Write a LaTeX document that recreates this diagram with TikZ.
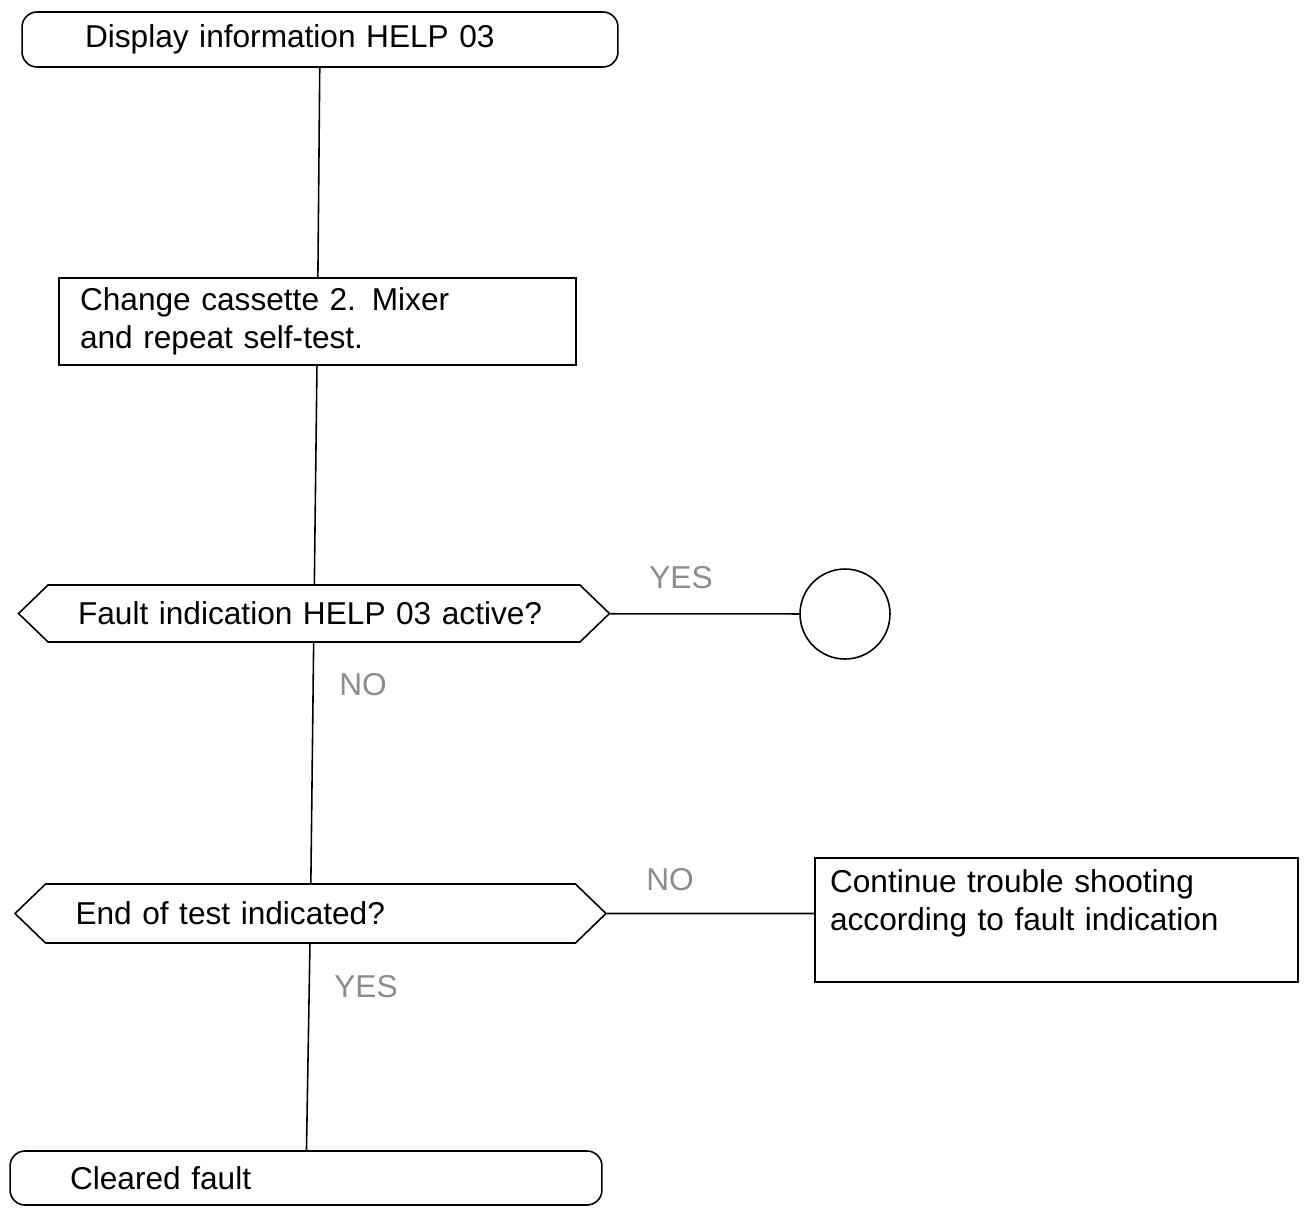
\documentclass[tikz,border=0pt]{standalone}
\usepackage{fontspec}
\setmainfont{Liberation Sans}
\usetikzlibrary{shapes.symbols}

\tikzset{
  term/.style={rectangle,rounded corners=0.3cm,draw,line width=0.9pt,align=left,inner ysep=0pt},
  act/.style={rectangle,draw,line width=0.9pt,align=left},
  ask/.style={signal,signal to=west and east,signal pointer angle=88,draw,line width=0.9pt,align=left,inner ysep=0pt},
  ans/.style={text=black!45,inner sep=0pt}
}

\begin{document}
\begin{tikzpicture}[x=0.02cm,y=-0.02cm,line width=0.9pt,font=\fontsize{18}{21.6}\selectfont]
\useasboundingbox (0,0) rectangle (1308,1207);
\node (start) at (320,39.5) [term,text width=9.4cm,inner xsep=1.26cm,minimum height=1.1cm] {Display information HELP 03};
\node (chg) at (317.5,321.5) [act,text width=9.5cm,inner xsep=0.42cm,minimum height=1.74cm] {Change cassette 2. Mixer\\and repeat self-test.};
\node (q1) at (314,613.5) [ask,text width=9.44cm,inner xsep=0.6cm,minimum height=1.14cm] {Fault indication HELP 03 active?};
\node (link) at (845,614) [circle,draw,minimum size=1.8cm,inner sep=0pt] {};
\node (q2) at (310.5,913.5) [ask,text width=9.4cm,inner xsep=0.6cm,minimum height=1.18cm] {End of test indicated?};
\node (cont) at (1056.5,920) [act,text width=9.06cm,inner xsep=0.3cm,inner ysep=0.24cm,text depth=1.55cm] {Continue trouble shooting\\according to fault indication};
\node (stop) at (306,1178) [term,text width=9.44cm,inner xsep=1.2cm,minimum height=1.08cm] {Cleared fault};
\node (y1) at (681,578) [ans] {YES};
\node (n1) at (363,685) [ans] {NO};
\node (n2) at (670,880) [ans] {NO};
\node (y2) at (366,987) [ans] {YES};
\draw[-] (start) -- (chg);
\draw[-] (chg) -- (q1);
\draw[-] (q1) -- (link);
\draw[-] (q1) -- (q2);
\draw[-] (q2) -- (q2 -| cont.west);
\draw[-] (q2) -- (stop);
\end{tikzpicture}
\end{document}
